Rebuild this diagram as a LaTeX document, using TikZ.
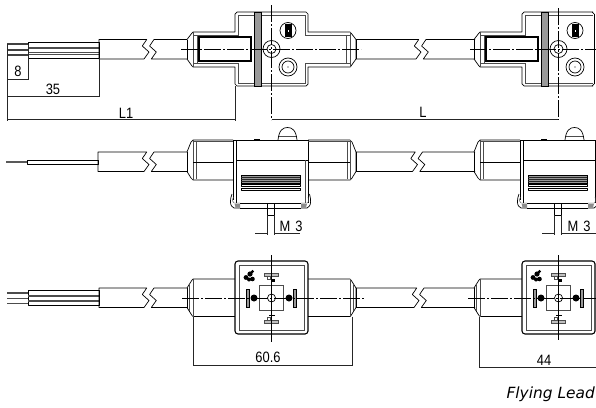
\documentclass[tikz,border=0pt]{standalone}
\usepackage{fontspec}
\newfontfamily\dimfont[FakeStretch=0.86]{Liberation Sans}
\newfontfamily\capfont{DejaVu Sans}
\tikzset{
  part/.style={draw=black,line width=.7pt,line join=round},
  thin part/.style={draw=black!70,line width=.4pt},
  heavy/.style={draw=black,line width=1.3pt},
  centre/.style={draw=black,line width=.55pt,dash pattern=on 17pt off 2pt on 2pt off 2pt},
  dim/.style={draw=black!85,line width=.55pt},
  dimlabel/.style={font=\dimfont\fontsize{15}{17}\selectfont,inner sep=0pt},
  band/.style={draw=black,fill=black!40,line width=.5pt},
  louvre/.style={draw=black,fill=black!40,line width=.4pt},
  blob/.style={fill=black,draw=none}
}
% one stretch of cable with its break
\newcommand{\cablerun}[4]{
  \draw[part] (#1,#4) -- (#2+.7,#4) -- ++(-4.4,6.5) -- ++(6.7,6) -- ++(-5,7) -- (#1,#4+19.5) -- cycle;
  \draw[part] (#3,#4) -- (#2+8,#4) -- ++(-4.4,6.5) -- ++(6.7,6) -- ++(-5,7) -- (#3,#4+19.5);
}
\begin{document}
\begin{tikzpicture}[x=1pt,y=-1pt]
  \useasboundingbox (0,0) rectangle (596,407);
  % top row
  \foreach \y in {44,50,55} {
    \draw[line width=1.5pt,black!75] (7,\y) -- (28,\y);
  }
  \draw[part] (28,42) rectangle (99,58);
  \foreach \y in {47,48.5,52.5,54} {
    \draw[thin part] (28,\y) -- (99,\y);
  }
  \cablerun{99}{146}{187}{39.5}
  \cablerun{356}{418}{475}{39.5}
  \foreach \dx in {0,287} {
    \begin{scope}[shift={(\dx,0)}]
      \draw[part] (187,39.5) -- (192,33) -- (193,32) -- (235,32) -- (235,14) -- (237,12) -- (306,12);
      \draw[part] (187,59) -- (192,66) -- (193,67) -- (235,67) -- (235,84) -- (237,86) -- (306,86);
      \draw[part] (187,39.5) -- (187,59);
      \draw[thin part] (193,35.5) -- (238,35.5) -- (238,15) -- (306,15);
      \draw[thin part] (193,63.5) -- (238,63.5) -- (238,83) -- (306,83);
      \draw[thin part] (197,35.5) -- (197,63.5);
      \draw[thin part] (193,32) -- (193,67);
      \draw[heavy,fill=white] (199,37) rectangle (251,61);
      \draw[band] (254,12) rectangle (261,86);
      \draw[part,fill=white] (271.5,49) circle (8.5);
      \draw[part] (271.5,49) circle (4.5);
      \draw[part] (288,30.5) circle (8);
      \fill[blob] (285,24) rectangle (291.5,37);
      \fill[white] (287.5,29.5) rectangle (289,31.5);
      \draw[part] (288,67) circle (9);
      \draw[part] (288,67) circle (6);
      \fill[blob] (288,67) circle (.6);
    \end{scope}
  }
  % right arm of the first connector
  \draw[part] (356,39.5) -- (351,33) -- (350,32) -- (308,32) -- (308,14) -- (306,12);
  \draw[part] (356,59) -- (351,66) -- (350,67) -- (308,67) -- (308,84) -- (306,86);
  \draw[part] (356,39.5) -- (356,59);
  \draw[thin part] (350,35.5) -- (305,35.5) -- (305,15);
  \draw[thin part] (350,63.5) -- (305,63.5) -- (305,83);
  \draw[thin part] (346,35.5) -- (346,63.5);
  \draw[thin part] (350,32) -- (350,67);
  \draw[part] (594,14) -- (594,84);
  \draw[part] (592,12) -- (594,14) (592,86) -- (594,84);
  \draw[centre] (181,49) -- (361,49);
  \draw[centre] (470,49) -- (596,49);
  \draw[centre] (271.5,5) -- (271.5,120);
  \draw[centre] (558,8) -- (558,120);
  % top row dimensions
  \coordinate (eightA) at (7,79);
  \coordinate (eightB) at (28,79);
  \coordinate (fiveA) at (7,96);
  \coordinate (fiveB) at (99,96);
  \coordinate (loneA) at (7,119);
  \coordinate (loneB) at (235,119);
  \coordinate (elA) at (271.5,119);
  \coordinate (elB) at (558,119);
  \draw[dim] (7,44) -- (7,121);
  \draw[dim] (28,44) -- (28,80);
  \draw[dim] (99,58) -- (99,97);
  \draw[dim] (235,86) -- (235,121);
  \draw[dim] (eightA) -- (eightB);
  \draw[dim] (fiveA) -- (fiveB);
  \draw[dim] (loneA) -- (loneB);
  \draw[dim] (elA) -- (elB);
  \node[dimlabel] (eight) at (18,71.5) {8};
  \node[dimlabel] (thirtyfive) at (53,89) {35};
  \node[dimlabel] (lone) at (126,113) {L1};
  \node[dimlabel] (el) at (423,112.5) {L};
  % middle row
  \draw[line width=1.3pt,black!65] (6,162) -- (27,162);
  \draw[part] (27,160) rectangle (98,164.5);
  \cablerun{98}{146}{187}{152}
  \cablerun{356}{414.5}{475}{152}
  \foreach \dx in {0,287} {
    \begin{scope}[shift={(\dx,0)}]
      \draw[part] (187,152) -- (191,142) -- (193,140) -- (233,140);
      \draw[part] (187,171.5) -- (191,178) -- (193,180) -- (233,180);
      \draw[part] (187,152) -- (187,171.5);
      \draw[thin part] (193,140) -- (193,180);
      \draw[thin part] (196,141.5) -- (196,179);
      \draw[thin part] (193,141.5) -- (233,141.5);
      \draw[part] (193,162) -- (233,162);
      \draw[part] (233,140) -- (233,200);
      \draw[part] (236,140) -- (236,203);
      \draw[part] (233,140) -- (308,140);
      \draw[part] (236,160) -- (308,160);
      \draw[part] (308,140) -- (308,203);
      \draw[louvre] (241,175) rectangle (300,183);
      \foreach \y in {177,179,181} {
        \draw[thin part,black!85] (241,\y) -- (300,\y);
      }
      \draw[part] (241,184.5) rectangle (300,186);
      \draw[part] (241,188) rectangle (300,190.5);
      \draw[part] (278,140) .. controls (279,130) and (283,127.5) .. (287.5,127.5) .. controls (292,127.5) and (296,130) .. (297,140);
      \draw[thin part] (279,136) -- (296,136);
      \fill[blob] (254,138.5) rectangle (260,140);
      \draw[part] (240,203) -- (301,203);
      \draw[part] (240,208) -- (301,208);
      \draw[part] (232,194) .. controls (230,199) and (230,204) .. (231.5,206) -- (234,208) -- (240,208);
      \draw[thin part] (233.5,197) .. controls (232,200) and (232,202) .. (234,203) -- (240,203);
      \draw[part] (309.5,194) .. controls (311,199) and (311,204) .. (309.5,206) -- (307,208) -- (301,208);
      \draw[thin part] (308,197) .. controls (309,200) and (309,202) .. (307.5,203) -- (301,203);
      \fill[black!45] (234.5,203.5) -- (240,203.5) -- (240,207.5) -- (235.5,207.5) -- cycle;
      \fill[black!45] (301,203.5) -- (307,203.5) -- (306,207.5) -- (301,207.5) -- cycle;
      \draw[part] (267,203) rectangle (274.5,215);
      \draw[dim] (267,215) -- (267,235);
      \draw[dim] (274.5,215) -- (274.5,235);
    \end{scope}
  }
  % right side of the first connector
  \draw[part] (356,152) -- (352,142) -- (350,140) -- (308,140);
  \draw[part] (356,171.5) -- (352,178) -- (350,180) -- (308,180);
  \draw[part] (356,152) -- (356,171.5);
  \draw[thin part] (350,140) -- (350,180);
  \draw[thin part] (347,141.5) -- (347,179);
  \draw[thin part] (308,141.5) -- (350,141.5);
  \draw[part] (308,162) -- (350,162);
  \draw[thin part] (305,160) -- (305,203);
  % thread dimensions
  \coordinate (threadA) at (255,233);
  \coordinate (threadB) at (267,233);
  \coordinate (threadC) at (274.5,233);
  \coordinate (threadD) at (300,233);
  \coordinate (threadE) at (542,233);
  \coordinate (threadF) at (554,233);
  \coordinate (threadG) at (561.5,233);
  \coordinate (threadH) at (596,233);
  \draw[dim] (threadA) -- (threadB);
  \draw[dim] (threadC) -- (threadD);
  \draw[dim] (threadE) -- (threadF);
  \draw[dim] (threadG) -- (threadH);
  \node[dimlabel] (threadleft) at (291,226.5) {M\,\,3};
  \node[dimlabel] (threadright) at (579,226.5) {M\,\,3};
  % bottom row
  \foreach \y in {293,298.5,303.5} {
    \draw[line width=1.6pt,black!70] (7,\y) -- (28,\y);
  }
  \draw[part] (28,290) rectangle (99,305.5);
  \foreach \y in {295,296.5,300,301.5} {
    \draw[thin part] (28,\y) -- (99,\y);
  }
  \cablerun{99}{146}{187}{288}
  \cablerun{356}{416}{475}{288}
  \foreach \dx in {0,287} {
    \begin{scope}[shift={(\dx,0)}]
      \draw[part] (187,288) -- (192,280) -- (193,279) -- (235,279);
      \draw[part] (187,307.5) -- (192,315.5) -- (193,316.5) -- (235,316.5);
      \draw[part] (187,288) -- (187,307.5);
      \draw[thin part] (193,279) -- (193,316.5);
      \draw[thin part] (189.5,284) -- (189.5,311);
      \draw[part,line width=1.1pt,rounded corners=3pt,fill=white] (235,261) rectangle (308,334);
      \draw[thin part] (239,265) rectangle (304,330);
      \draw[thin part] (259,285.5) rectangle (283.5,310);
      \draw[part] (271.5,298) circle (4);
      \fill[blob] (254,298) circle (3.5);
      \fill[blob] (289,298) circle (3.5);
      \draw[band] (246.5,289) rectangle (249.5,307);
      \draw[band] (293.5,289) rectangle (296.5,307);
      \fill[blob] (246,277.5) circle (2.4) (250,274) circle (2.6) (252.5,279) circle (2.3) (249,279.5) circle (2) (252.5,271.5) circle (1.6);
      \draw[thin part,fill=black!25] (264.5,273) rectangle (278.5,276.5);
      \draw[thin part] (267,276.5) rectangle (270,279.5);
      \fill[blob] (270.5,278.5) rectangle (274.5,282);
      \draw[thin part,fill=black!25] (264.5,320) rectangle (278.5,323.5);
      \draw[thin part] (267,317) rectangle (270,320);
      \fill[blob] (268.5,314.5) rectangle (274.5,316);
    \end{scope}
  }
  % right side of the first connector
  \draw[part] (356,288) -- (351,280) -- (350,279) -- (308,279);
  \draw[part] (356,307.5) -- (351,315.5) -- (350,316.5) -- (308,316.5);
  \draw[part] (356,288) -- (356,307.5);
  \draw[thin part] (350,279) -- (350,316.5);
  \draw[thin part] (353.5,284) -- (353.5,311);
  \draw[centre] (182,298) -- (365,298);
  \draw[centre] (468,298) -- (596,298);
  \draw[part] (271.5,255) -- (271.5,342);
  \draw[part] (558,255) -- (558,340);
  % bottom row dimensions
  \coordinate (sixtyA) at (193,365);
  \coordinate (sixtyB) at (352,365);
  \coordinate (fortyA) at (479,367);
  \coordinate (fortyB) at (596,367);
  \draw[dim] (193,316.5) -- (193,366);
  \draw[dim] (352,316.5) -- (352,366);
  \draw[dim] (479,316.5) -- (479,368);
  \draw[dim] (sixtyA) -- (sixtyB);
  \draw[dim] (fortyA) -- (fortyB);
  \node[dimlabel] (sixty) at (268,357) {60.6};
  \node[dimlabel] (forty) at (544,360) {44};
  \node[font=\capfont\itshape\fontsize{15.4}{18}\selectfont,anchor=east,inner sep=0pt] (caption) at (595,394) {Flying Lead};
\end{tikzpicture}
\end{document}
